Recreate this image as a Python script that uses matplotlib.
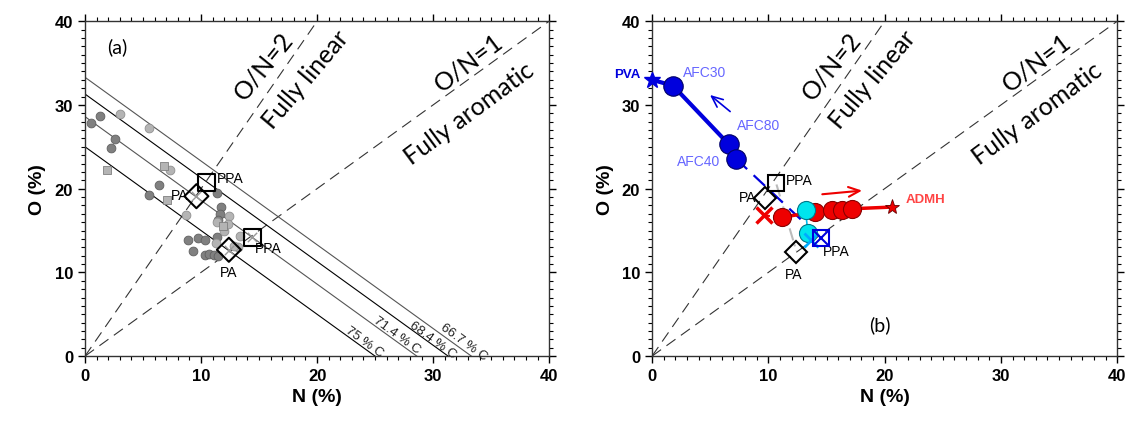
import numpy as np
import matplotlib.pyplot as plt
from matplotlib.ticker import MultipleLocator

plt.rcParams['font.family'] = ['Liberation Sans', 'DejaVu Sans']

# ---- panel (a) data ----
carbon_labels = ['66.7 % C', '68.4 % C', '71.4 % C', '75 % C']
carbon_sum = [33.3, 31.3, 28.6, 25.0]          # N + O intercepts
carbon_label_pos = [(32.6, 1.8), (30.0, 2.0), (26.9, 2.6), (24.1, 1.8)]

dark_n = [0.5, 1.3, 2.6, 2.2, 6.4, 5.5, 11.4, 11.7, 11.6, 11.5, 8.9, 9.7, 10.3, 11.4,
          9.3, 10.3, 10.7, 11.1, 11.5]
dark_o = [27.9, 28.7, 25.9, 24.8, 20.4, 19.3, 19.5, 17.8, 17.0, 16.2, 13.9, 14.1, 13.9, 14.2,
          12.6, 12.1, 12.2, 12.1, 12.0]
light_n = [3.0, 5.5, 7.3, 8.7, 12.4, 11.4, 12.3, 12.0, 13.4, 11.3, 13.2, 12.8]
light_o = [28.9, 27.3, 22.2, 16.8, 16.7, 16.0, 15.8, 15.0, 14.4, 13.5, 13.0, 13.2]
sq_n = [1.9, 6.8, 7.1, 11.9]
sq_o = [22.2, 22.7, 18.7, 15.6]

ppa_n = [10.5, 14.4]
ppa_o = [20.7, 14.2]
pa_n = [9.6, 12.4]
pa_o = [19.1, 12.7]

# ---- panel (b) data ----
afc_names = ['AFC30', 'AFC80', 'AFC40']
afc_n = [1.8, 6.6, 7.2]
afc_o = [32.3, 25.3, 23.6]
pva = (0.0, 33.0)
blue_end = (14.5, 14.1)

admh_n = [11.2, 14.0, 15.5, 16.3, 17.2]
admh_o = [16.6, 17.2, 17.5, 17.5, 17.6]
admh_star = (20.6, 17.8)
red_x = (9.6, 16.8)
cyan_n = [13.2, 13.4]
cyan_o = [17.4, 14.7]
cyan_x = (13.7, 13.9)

fig = plt.figure(figsize=(11.32, 4.35), dpi=100)
ax1 = fig.add_axes([0.0751, 0.179, 0.410, 0.770])
ax2 = fig.add_axes([0.576, 0.179, 0.411, 0.770])


def base_axes(ax):
    ax.set_xlim(0, 40)
    ax.set_ylim(0, 40)
    nn = np.array([0, 40])
    ax.plot([0, 20], [0, 40], color='#333333', lw=0.8, dashes=(10, 6))
    ax.plot(nn, nn, color='#333333', lw=0.8, dashes=(10, 6))
    ax.xaxis.set_major_locator(MultipleLocator(10))
    ax.yaxis.set_major_locator(MultipleLocator(10))
    ax.xaxis.set_minor_locator(MultipleLocator(1))
    ax.yaxis.set_minor_locator(MultipleLocator(1))
    ax.tick_params(which='both', direction='out', top=True, right=True,
                   labeltop=False, labelright=False)
    ax.tick_params(which='major', length=5, width=1, labelsize=12)
    ax.tick_params(which='minor', length=3, width=0.8)
    for lab in ax.get_xticklabels() + ax.get_yticklabels():
        lab.set_fontweight('bold')
    for sp in ax.spines.values():
        sp.set_linewidth(1.0)
        sp.set_color('#333333')
    ax.set_xlabel('N (%)', fontsize=14, fontweight='bold', labelpad=4)
    ax.set_ylabel('O (%)', fontsize=14, fontweight='bold', labelpad=6)
    tf = dict(fontsize=18, family=['Lato', 'DejaVu Sans'], ha='center', va='center',
              rotation_mode='anchor')
    ax.text(15.4, 34.7, 'O/N=2', rotation=51, **tf)
    ax.text(19.0, 33.1, 'Fully linear', rotation=50, **tf)
    ax.text(33.1, 35.1, 'O/N=1', rotation=37, **tf)
    ax.text(33.1, 29.0, 'Fully aromatic', rotation=36.5, **tf)


base_axes(ax1)
base_axes(ax2)

# ---- panel (a) ----
for i, (s, lab) in enumerate(zip(carbon_sum, carbon_labels)):
    ax1.plot([0, s], [s, 0], color='black' if i % 2 else '#555555', lw=0.8)
    ax1.text(carbon_label_pos[i][0], carbon_label_pos[i][1], lab, rotation=-36,
             fontsize=9.5, ha='center', va='center', color='#222222', rotation_mode='anchor')

ax1.scatter(dark_n, dark_o, s=40, color='#808080', edgecolor='#606060', lw=0.6, zorder=3)
ax1.scatter(light_n, light_o, s=40, color='#b4b4b4', edgecolor='#909090', lw=0.6, zorder=3)
ax1.scatter(sq_n, sq_o, s=40, marker='s', color='#b4b4b4', edgecolor='#808080', lw=0.6, zorder=3)

ax1.scatter(ppa_n, ppa_o, s=150, marker='s', facecolor='none', edgecolor='black', lw=1.5, zorder=4)
ax1.scatter(pa_n, pa_o, s=150, marker='D', facecolor='none', edgecolor='black', lw=1.5, zorder=4)
ax1.scatter(pa_n + ppa_n[1:], pa_o + ppa_o[1:], s=45, marker='x', color='#999999', lw=1, zorder=4)

ax1.text(11.4, 21.3, 'PPA', fontsize=10, ha='left', va='center')
ax1.text(8.9, 19.2, 'PA', fontsize=10, ha='right', va='center')
ax1.text(14.6, 12.9, 'PPA', fontsize=10, ha='left', va='center')
ax1.text(12.4, 10.1, 'PA', fontsize=10, ha='center', va='center')
ax1.text(2.8, 37.0, '(a)', fontsize=14, family=['Lato', 'DejaVu Sans'], ha='center', va='center')

# ---- panel (b) ----
blue = '#0000dd'
ax2.plot([pva[0]] + afc_n, [pva[1]] + afc_o, color=blue, lw=3, zorder=3)
ax2.plot([afc_n[-1], blue_end[0]], [afc_o[-1], blue_end[1]], color=blue, lw=1.6,
         dashes=(7, 4), zorder=3)
ax2.plot(afc_n, afc_o, 'o', ms=14, color=blue, mec='#000066', mew=0.8, zorder=5)
ax2.plot(*pva, marker='*', ms=12, color=blue, clip_on=False, zorder=6)
ax2.text(-1.0, 33.7, 'PVA', fontsize=9.5, fontweight='bold', color=blue, ha='right', va='center')
afc_label_pos = [(4.5, 33.9), (9.2, 27.6), (4.0, 23.3)]
for name, (x, y) in zip(afc_names, afc_label_pos):
    ax2.text(x, y, name, fontsize=10, color='#6666ff', ha='center', va='center')
ax2.annotate('', xy=(4.8, 31.4), xytext=(6.9, 29.0),
             arrowprops=dict(arrowstyle='->,head_length=0.8,head_width=0.35', color=blue, lw=1.2))

# gray dash-dot link between PPA and PA
ax2.plot([10.7, 12.4], [20.5, 12.6], color='#bbbbbb', lw=1.5, dashes=(6, 2, 1, 2), zorder=2)

# ADMH series
red = '#ee0000'
ax2.plot([red_x[0], admh_n[0]], [red_x[1], admh_o[0]], color=red, lw=1.5, dashes=(3, 2), zorder=3)
ax2.plot(admh_n + [admh_star[0]], admh_o + [admh_star[1]], color=red, lw=2.5, zorder=3)
ax2.plot(admh_n, admh_o, 'o', ms=13, color=red, mec='#880000', mew=0.8, zorder=5)
ax2.plot(*red_x, marker='x', ms=11, mew=2.5, color=red, zorder=5)
ax2.plot(*admh_star, marker='*', ms=11, color=red, mec='#660000', mew=0.6, zorder=6)
ax2.text(21.8, 18.8, 'ADMH', fontsize=9.5, fontweight='bold', color='#ff4444', ha='left', va='center')
ax2.annotate('', xy=(18.3, 19.8), xytext=(14.4, 19.3),
             arrowprops=dict(arrowstyle='->,head_length=0.8,head_width=0.35', color=red, lw=1.5))

# cyan points
ax2.plot(cyan_n + [cyan_x[0]], cyan_o + [cyan_x[1]], color='#00bbee', lw=1.2, zorder=4)
ax2.plot(cyan_n, cyan_o, 'o', ms=13, color='#00e5ee', mec='#007788', mew=0.8, zorder=6)
ax2.plot(*cyan_x, marker='x', ms=10, mew=2, color='#00aaff', zorder=6)

# reference markers
ax2.plot(10.7, 20.7, 's', ms=12, mfc='none', mec='black', mew=1.5, zorder=7)
ax2.plot(9.7, 18.9, 'D', ms=11, mfc='none', mec='black', mew=1.5, zorder=7)
ax2.plot(12.4, 12.4, 'D', ms=11, mfc='none', mec='black', mew=1.5, zorder=7)
ax2.plot(14.5, 14.1, 's', ms=12, mfc='none', mec=blue, mew=1.5, zorder=7)
ax2.plot(14.5, 14.1, 'x', ms=10, color=blue, mew=1.5, zorder=7)
ax2.text(11.5, 21.0, 'PPA', fontsize=10, ha='left', va='center')
ax2.text(9.0, 19.0, 'PA', fontsize=10, ha='right', va='center')
ax2.text(15.8, 12.5, 'PPA', fontsize=10, ha='center', va='center')
ax2.text(12.2, 9.8, 'PA', fontsize=10, ha='center', va='center')
ax2.text(19.6, 3.8, '(b)', fontsize=14, family=['Lato', 'DejaVu Sans'], ha='center', va='center')

fig.savefig('out.png', dpi=100)
